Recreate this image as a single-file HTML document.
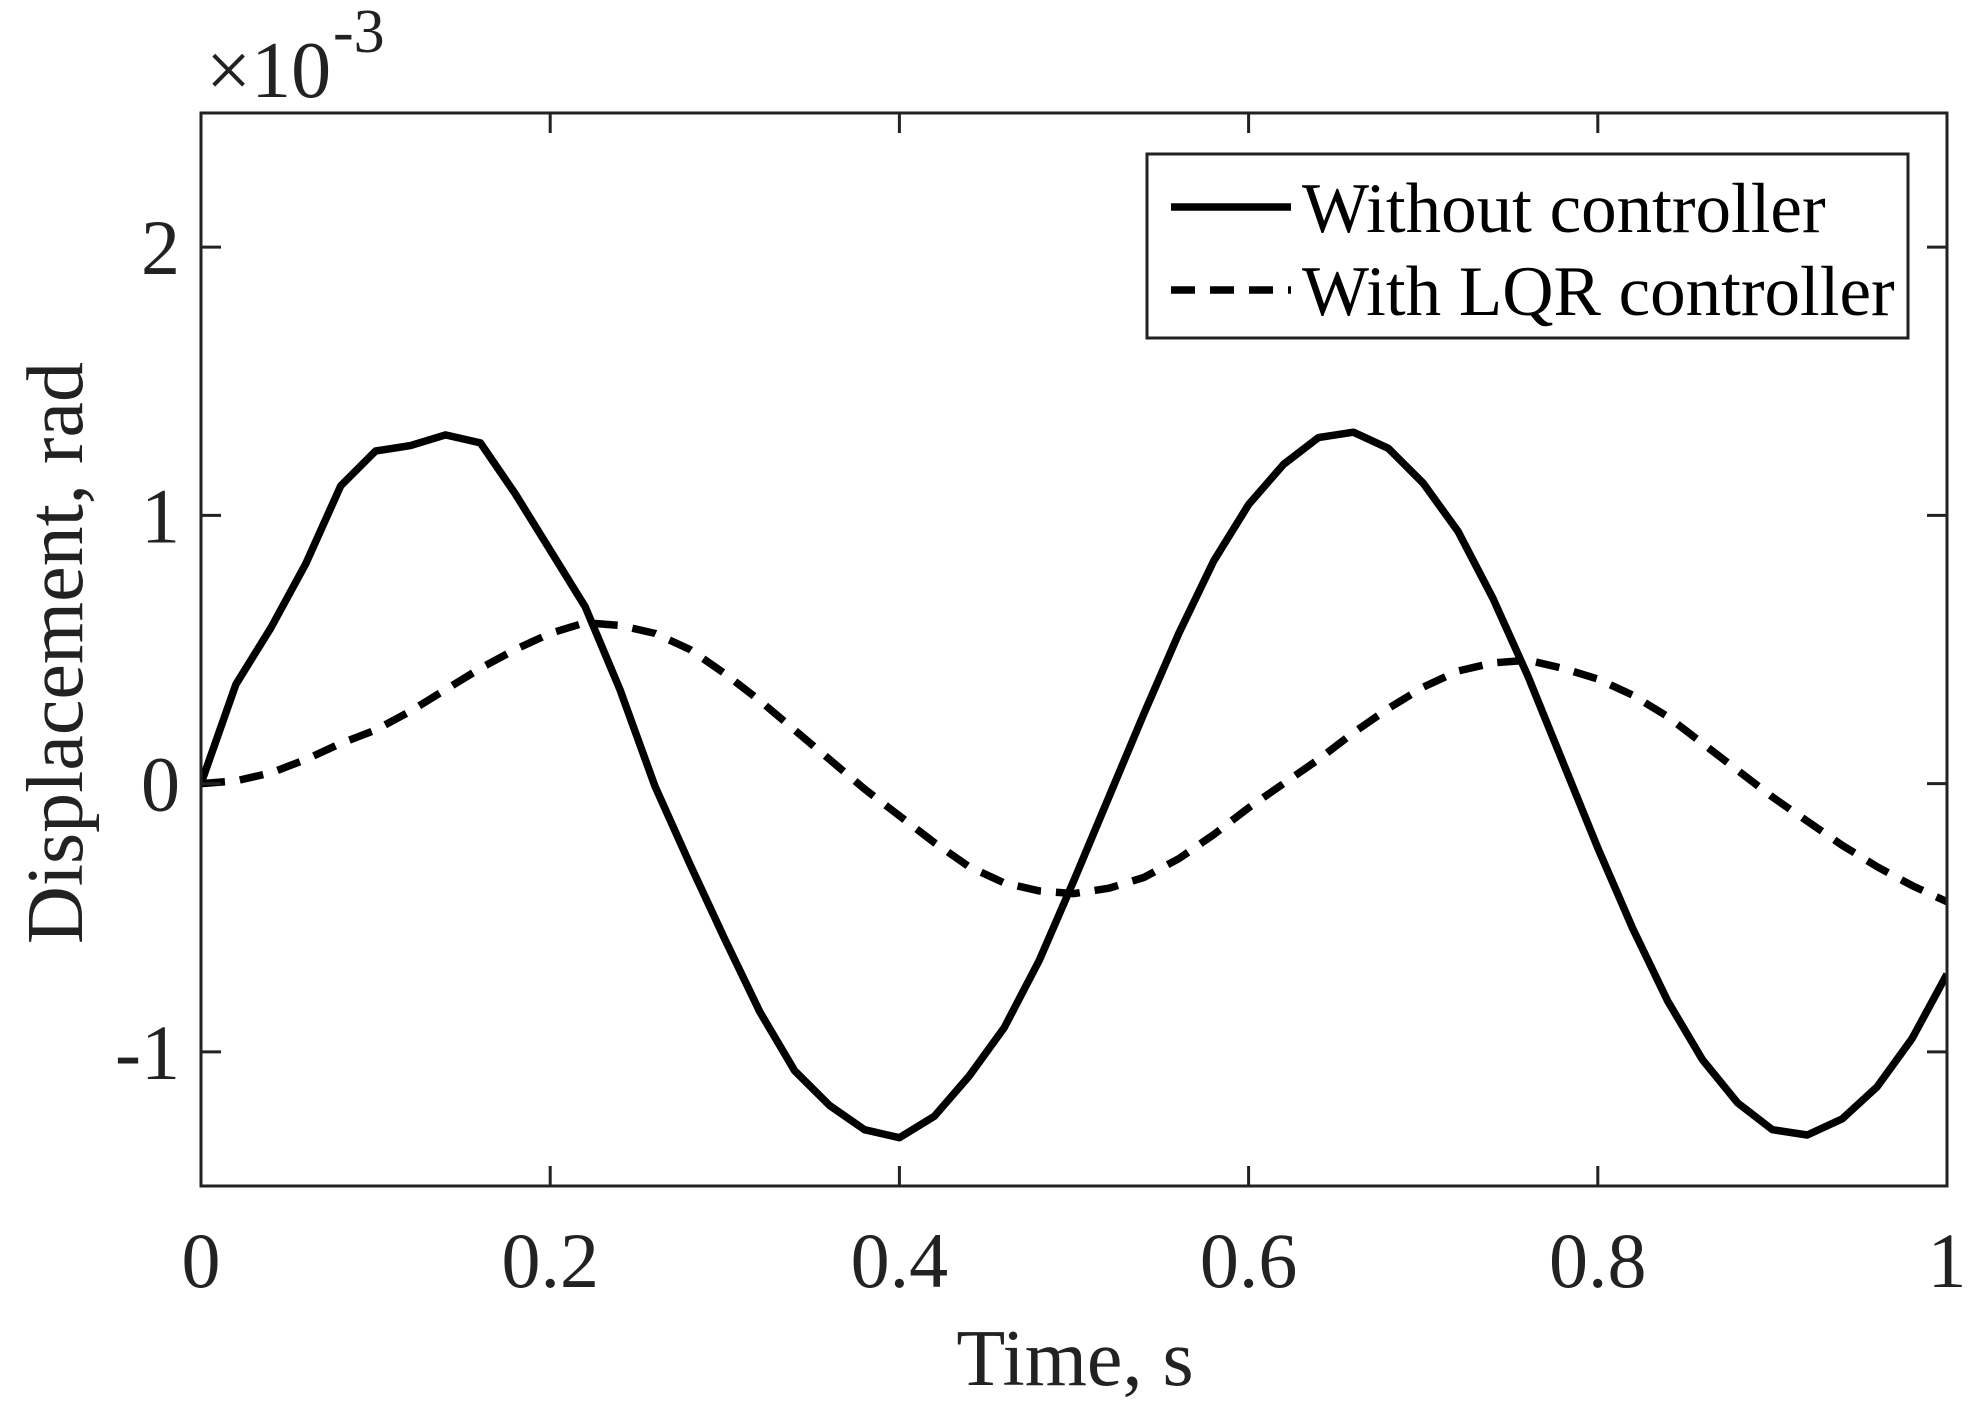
<!DOCTYPE html>
<html><head><meta charset="utf-8"><style>
html,body{margin:0;padding:0;background:#fff}
svg{display:block;font-family:"Liberation Serif",serif}
</style></head><body>
<svg id="chart" width="1975" height="1411" viewBox="0 0 1975 1411">
<g id="plot"></g>
</svg>
<script>
const times = [0,0.02,0.04,0.06,0.08,0.10,0.12,0.14,0.16,0.18,0.20,0.22,0.24,0.26,0.28,0.30,0.32,0.34,0.36,0.38,0.40,0.42,0.44,0.46,0.48,0.50,0.52,0.54,0.56,0.58,0.60,0.62,0.64,0.66,0.68,0.70,0.72,0.74,0.76,0.78,0.80,0.82,0.84,0.86,0.88,0.90,0.92,0.94,0.96,0.98,1.00];
const withoutController = [0,0.37,0.58,0.82,1.11,1.24,1.26,1.30,1.27,1.08,0.87,0.66,0.35,-0.01,-0.30,-0.58,-0.85,-1.07,-1.20,-1.29,-1.32,-1.24,-1.09,-0.91,-0.66,-0.36,-0.05,0.26,0.56,0.83,1.04,1.19,1.29,1.31,1.25,1.12,0.94,0.69,0.40,0.08,-0.24,-0.54,-0.81,-1.03,-1.19,-1.29,-1.31,-1.25,-1.13,-0.95,-0.71];
const withLQR = [0,0.01,0.04,0.09,0.15,0.20,0.27,0.35,0.43,0.50,0.56,0.60,0.59,0.56,0.50,0.41,0.31,0.20,0.09,-0.02,-0.12,-0.22,-0.31,-0.37,-0.40,-0.41,-0.39,-0.35,-0.28,-0.19,-0.09,0.00,0.09,0.19,0.28,0.36,0.42,0.45,0.46,0.43,0.39,0.33,0.25,0.15,0.05,-0.05,-0.14,-0.23,-0.31,-0.38,-0.44];
const xTicks = [0,0.2,0.4,0.6,0.8,1];
const xTickLabels = ["0","0.2","0.4","0.6","0.8","1"];
const yTicks = [-1,0,1,2];
const yTickLabels = ["-1","0","1","2"];

const L=201,R=1947,T=113,B=1186, xMin=0,xMax=1,yMin=-1.5,yMax=2.5;
const sx=v=>L+(v-xMin)/(xMax-xMin)*(R-L);
const sy=v=>B-(v-yMin)/(yMax-yMin)*(B-T);
const NS="http://www.w3.org/2000/svg";
const svg=document.getElementById('chart');
function mk(tag,attrs,parent){const e=document.createElementNS(NS,tag);for(const k in attrs)e.setAttribute(k,attrs[k]);(parent||svg).appendChild(e);return e;}

const clip=mk('clipPath',{id:'clip'});mk('rect',{x:L,y:T,width:R-L,height:B-T},clip);
const pts=a=>a.map((v,i)=>sx(times[i]).toFixed(1)+','+sy(v).toFixed(1)).join(' ');
const s1=mk('polyline',{points:pts(withoutController),fill:'none',stroke:'#000','stroke-width':7.5,'stroke-linejoin':'round','clip-path':'url(#clip)'});


const s2=mk('polyline',{points:pts(withLQR),fill:'none',stroke:'#000','stroke-width':7.5,'stroke-dasharray':'24 15','clip-path':'url(#clip)'});



const box=mk('rect',{x:L,y:T,width:R-L,height:B-T,fill:'none',stroke:'#222','stroke-width':3});



xTicks.forEach((v,i)=>{
  const x=sx(v);
  mk('line',{x1:x,y1:B,x2:x,y2:B-20,stroke:'#222','stroke-width':3});
  mk('line',{x1:x,y1:T,x2:x,y2:T+20,stroke:'#222','stroke-width':3});
  const t=mk('text',{x:x,y:1287,'text-anchor':'middle','font-size':78,fill:'#222'});
  t.textContent=xTickLabels[i];
  
  
});
yTicks.forEach((v,i)=>{
  const y=sy(v);
  mk('line',{x1:L,y1:y,x2:L+20,y2:y,stroke:'#222','stroke-width':3});
  mk('line',{x1:R,y1:y,x2:R-20,y2:y,stroke:'#222','stroke-width':3});
  const t=mk('text',{x:180,y:y+27,'text-anchor':'end','font-size':78,fill:'#222'});
  t.textContent=yTickLabels[i];
  
  
});
</script>
<script>
const s=document.getElementById('chart');
s.insertAdjacentHTML('beforeend',`
<g><text x="206" y="97" font-size="80" fill="#222">×10</text><text x="333" y="52" font-size="62" fill="#222">-3</text></g>
<text x="1075" y="1385" text-anchor="middle" font-size="80" fill="#222">Time, s</text>
<text transform="translate(82,653) rotate(-90)" text-anchor="middle" font-size="80" fill="#222">Displacement, rad</text>
<g>
<rect x="1147" y="154" width="761" height="184" fill="#fff" stroke="#222" stroke-width="3"/>
<line x1="1171" y1="207" x2="1291" y2="207" stroke="#000" stroke-width="7.5"/>
<text x="1302" y="232" font-size="71" fill="#000">Without controller</text>
<line x1="1171" y1="290" x2="1291" y2="290" stroke="#000" stroke-width="7.5" stroke-dasharray="24 15"/>
<text x="1302" y="315" font-size="71" fill="#000">With LQR controller</text>
</g>`);
</script>
</body></html>
